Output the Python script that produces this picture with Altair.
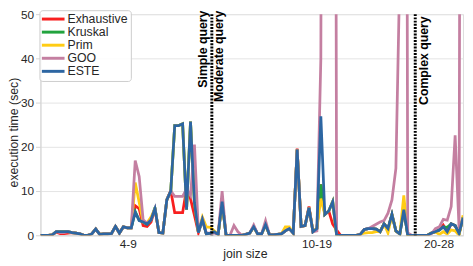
import altair as alt
import pandas as pd

FONT = "Liberation Sans"

series_names = ["Exhaustive", "Kruskal", "Prim", "GOO", "ESTE"]
series_colors = ["#f81f1f", "#22a33e", "#ffcc14", "#c47fa1", "#2d66a2"]

exhaustive = [0, 0, 0, 0.1, 0.7, 0.4, 0.4, 0.5, 0.6, 0.5,
              0.3, 0, 0, 0.3, 1.4, 0.2, 0.3, 0.3, 0.4, 2.0,
              0.5, 1.9, 1.7, 1.7, 6.7, 6.0, 2.2, 2.0, 3.0, 6.0,
              0.6, 0.5, 8.0, 10.1, 5.1, 5.1, 5.1, 10.5, 8.2, 4.5,
              0.6, 3.6, 0.3, 0.5, 0.8, 0.2, 7.6, 0, 0, 0,
              0, 0, 0.2, 0.5, 1.9, 0.3, 0.3, 2.4, 0.1, 0.1,
              0.2, 0.3, 1.0, 1.5, 0.5, 19.6, 2.0, 2.2, 6.5, 0.8,
              1.5, 11.5, 4.7, 5.5, 2.5, 1.2, 0, 0, 0, 0,
              0, 0.2, 1.3, 1.5, 1.5, 1.4, 0.8, 2.6, 1.5, 4.7,
              1.0, 0.3, 5.8, 0, 0, 0, 0, 0, 0, 0.5,
              0.8, 1.2, 2.3, 0.8, 2.6, 2.2, 0.4, 4.0]

kruskal = [0, 0, 0, 0.1, 0.8, 0.8, 0.8, 0.8, 0.6, 0.5,
           0.3, 0, 0, 0.3, 1.4, 0.2, 0.3, 0.3, 0.4, 2.0,
           0.5, 1.9, 1.7, 1.7, 5.4, 3.4, 3.0, 2.5, 3.5, 6.3,
           0.6, 0.5, 8.0, 10.0, 24.8, 24.8, 25.2, 5.8, 25.7, 7.3,
           0.6, 3.6, 0.3, 0.5, 0.8, 0.2, 7.6, 0, 0, 0,
           0, 0, 0.2, 0.5, 1.9, 0.3, 0.3, 2.4, 0.1, 0.1,
           0.2, 0.3, 1.0, 1.5, 0.5, 19.4, 2.0, 2.2, 6.2, 0.8,
           1.5, 11.5, 4.7, 5.5, 7.6, 0, 0, 0, 0, 0,
           0, 0.2, 1.3, 1.5, 1.5, 1.4, 0.8, 2.6, 1.5, 4.7,
           1.0, 0.3, 5.8, 0, 0, 0, 0, 0, 0, 0.5,
           0.8, 1.2, 1.9, 1.8, 2.6, 2.2, 0.4, 4.0]

prim = [0, 0, 0, 0.1, 0.8, 0.8, 0.8, 0.8, 0.6, 0.5,
        0.3, 0, 0, 0.3, 1.4, 0.2, 0.3, 0.3, 0.4, 2.0,
        0.5, 1.9, 1.7, 1.7, 11.9, 7.5, 3.0, 2.8, 4.1, 6.0,
        0.6, 0.5, 8.0, 10.0, 24.8, 24.8, 25.2, 5.8, 25.7, 7.3,
        0.6, 4.1, 1.9, 1.8, 1.0, 0.2, 7.6, 0, 0, 0,
        0, 0, 0.2, 0.5, 1.9, 0.3, 0.3, 2.4, 0.1, 0.1,
        0.2, 0.3, 1.9, 1.9, 0.5, 19.4, 2.0, 2.2, 6.2, 1.1,
        1.5, 8.3, 4.7, 5.5, 7.6, 0, 0, 0, 0, 0,
        0, 0.2, 0.5, 0.6, 0.6, 0.8, 0.8, 2.6, 0.5, 4.7,
        1.0, 0.3, 9.0, 0, 0, 0, 0, 0, 0, 0.5,
        0.8, 0.2, 0.8, 0.3, 1.2, 1.0, 0.0, 4.5]

goo = [0, 0, 0, 0.1, 0.8, 0.6, 0.6, 0.8, 0.6, 0.5,
       0.3, 0, 0, 0.3, 1.4, 0.2, 0.3, 0.3, 0.4, 2.0,
       0.5, 1.9, 1.7, 1.7, 16.9, 13.3, 3.5, 2.7, 3.5, 6.0,
       0.6, 0.5, 8.0, 10.0, 8.8, 8.8, 8.8, 10.5, 9.0, 20.5,
       0.6, 3.6, 0.5, 0.5, 0.5, 0.3, 10.0, 0, 0, 2.2,
       0.8, 0, 0.2, 0.5, 2.3, 0.3, 0.3, 3.3, 0.1, 0.1,
       0.2, 0.3, 1.0, 1.5, 0.5, 19.4, 2.0, 2.2, 6.2, 0.8,
       1.0, 40, 400, 400, 400, 0, 0, 0, 0, 0,
       0, 0.2, 1.3, 1.5, 2.0, 2.5, 3.0, 3.3, 5.0, 8.0,
       15.1, 60, 400, 0.5, 0, 0, 0, 0, 0, 0.3,
       1.5, 1.9, 3.6, 3.4, 6.5, 22.6, 1.5, 400]

este = [0, 0, 0, 0.1, 0.8, 0.8, 0.8, 0.8, 0.6, 0.5,
        0.3, 0, 0, 0.3, 1.4, 0.2, 0.3, 0.3, 0.4, 2.0,
        0.5, 1.9, 1.7, 1.7, 5.2, 3.3, 3.0, 2.5, 3.5, 6.0,
        0.6, 0.5, 8.0, 10.0, 24.8, 24.8, 25.2, 5.8, 25.7, 7.3,
        0.6, 3.6, 0.3, 0.5, 0.8, 0.2, 7.6, 0, 0, 0,
        0, 0, 0.2, 0.5, 1.9, 0.3, 0.3, 2.4, 0.1, 0.1,
        0.2, 0.3, 1.0, 1.5, 0.5, 19.4, 2.0, 2.2, 6.2, 0.8,
        1.5, 26.9, 4.7, 5.5, 7.6, 0, 0, 0, 0, 0,
        0, 0.2, 1.3, 1.5, 1.5, 1.4, 0.8, 2.6, 1.5, 4.7,
        1.0, 0.3, 5.8, 0, 0, 0, 0, 0, 0, 0.5,
        0.8, 1.2, 1.9, 0.8, 2.6, 2.2, 0.4, 4.0]

xtick_pos = [22.1, 69.9, 100.8]
xtick_text = ["4-9", "10-19", "20-28"]
y_ticks = [0, 10, 20, 30, 40, 50]
sep_pos = [43.4, 94.9]
note_text = ["Simple query", "Moderate query", "Complex query"]
note_x = [41.3, 45.2, 97.2]
note_y = [50.8, 50.8, 49.5]

rows = []
for name, vals in zip(series_names, [exhaustive, kruskal, prim, goo, este]):
    for i, v in enumerate(vals):
        rows.append({"idx": i, "series": name, "value": v})
df = pd.DataFrame(rows)

label_expr = " : ".join(f"datum.value == {p} ? '{t}'" for p, t in zip(xtick_pos, xtick_text)) + " : ''"

x_scale = alt.Scale(domain=[0, len(este) - 1], nice=False, zero=False)
y_scale = alt.Scale(domain=[0, 50], nice=False, zero=True)

x_axis = alt.Axis(
    values=xtick_pos, labelExpr=label_expr, grid=False, ticks=False, tickSize=0,
    domainColor="#d4d4d4", labelFont=FONT, labelFontSize=12, labelColor="#262626",
    labelPadding=3, labelFlush=False, title="join size", titleFont=FONT,
    titleFontSize=12.5, titleFontWeight="normal", titleColor="#262626",
    titleBaseline="top", titleAlign="center", titleX=208, titleY=13,
)
y_axis = alt.Axis(
    values=y_ticks, grid=True, gridColor="#e3e3e3", gridWidth=1,
    domainColor="#d4d4d4", tickColor="#d4d4d4", tickSize=5,
    labelFont=FONT, labelFontSize=12, labelColor="#262626", labelPadding=2,
    labelFlush=False, title="execution time (sec)", titleFont=FONT,
    titleFontSize=12.5, titleFontWeight="normal", titleColor="#262626",
    titleAngle=270, titleBaseline="alphabetic", titleAlign="center",
    titleX=-23.5, titleY=120,
)

color_enc = alt.Color(
    "series:N",
    scale=alt.Scale(domain=series_names, range=series_colors),
    legend=alt.Legend(
        title=None, orient="none", legendX=-1, legendY=-4, direction="vertical",
        labelFont=FONT, labelFontSize=12.5, labelColor="#262626",
        symbolType="M-2.5,0H2.5", symbolSize=85, symbolStrokeWidth=3,
        symbolOffset=5, labelOffset=8, padding=2.5, rowPadding=0.3,
        strokeColor="#cccccc", fillColor="rgba(255,255,255,0.85)", cornerRadius=3,
    ),
)

base = alt.Chart(df).mark_line(strokeWidth=2.8, clip=True).encode(
    x=alt.X("idx:Q", scale=x_scale, axis=x_axis),
    y=alt.Y("value:Q", scale=y_scale, axis=y_axis),
    color=color_enc,
)
lines = [base.transform_filter(alt.datum.series == n) for n in series_names]

sep = alt.Chart(pd.DataFrame({"idx": sep_pos})).mark_rule(
    color="black", strokeWidth=3, strokeDash=[2, 1.3]
).encode(x=alt.X("idx:Q", scale=x_scale, axis=x_axis))

notes = alt.Chart(pd.DataFrame({"idx": note_x, "value": note_y, "t": note_text})).mark_text(
    angle=270, align="right", baseline="middle", font=FONT, fontSize=12.5,
    fontWeight="bold", color="black",
).encode(
    x=alt.X("idx:Q", scale=x_scale, axis=x_axis),
    y=alt.Y("value:Q", scale=y_scale, axis=y_axis),
    text="t:N",
)

chart = alt.layer(*lines, sep, notes).properties(
    width=430, height=225,
    autosize=alt.AutoSizeParams(type="none"),
    padding={"left": 33, "top": 4, "right": 2, "bottom": 28},
).configure_view(stroke=None).configure(font=FONT, background="white")

chart.save("out.html", embed_options={"renderer": "svg", "actions": False})
